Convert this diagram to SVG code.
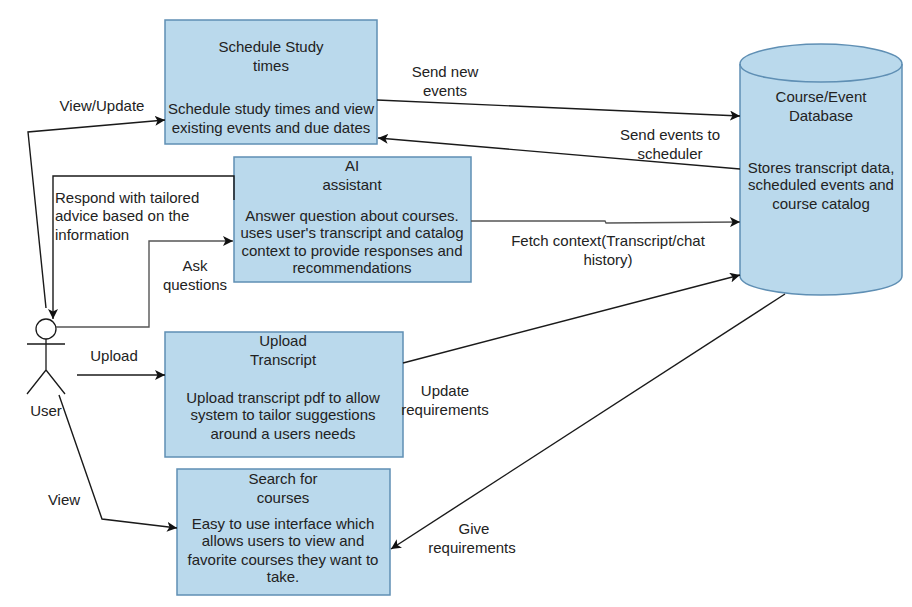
<svg xmlns="http://www.w3.org/2000/svg" width="912" height="607" viewBox="0 0 912 607">
<style>
text{font-family:"Liberation Sans",Arial,sans-serif;font-size:15px;fill:#222;text-anchor:middle}
.b{fill:#bad9ec;stroke:#5f8fb4;stroke-width:1.5}
.c{fill:none;stroke:#1a1a1a;stroke-width:1.4;marker-end:url(#a)}
.g{stroke:#555}
.s{text-anchor:start}
</style>
<defs><marker id="a" markerUnits="userSpaceOnUse" markerWidth="12" markerHeight="10" refX="10" refY="5" orient="auto"><path d="M0 0L10 5L0 10L2.5 5Z" fill="#111"/></marker></defs>
<rect width="912" height="607" fill="#fff"/>
<g id="schedule"><rect class="b" x="165" y="20" width="212" height="124"/>
<text x="271" y="52">Schedule Study</text><text x="271" y="71">times</text><text x="271" y="114">Schedule study times and view</text><text x="271" y="133">existing events and due dates</text></g>
<g id="assistant"><rect class="b" x="234" y="157" width="237" height="125"/>
<text x="352" y="171">AI</text><text x="352" y="190">assistant</text><text x="352" y="221">Answer question about courses.</text><text x="352" y="238">uses user's transcript and catalog</text><text x="352" y="256">context to provide responses and</text><text x="352" y="273">recommendations</text></g>
<g id="upload"><rect class="b" x="165" y="332" width="238" height="125"/>
<text x="283" y="346">Upload</text><text x="283" y="365">Transcript</text><text x="283" y="403">Upload transcript pdf to allow</text><text x="283" y="420">system to tailor suggestions</text><text x="283" y="439">around a users needs</text></g>
<g id="search"><rect class="b" x="177" y="469" width="213" height="126"/>
<text x="283" y="484">Search for</text><text x="283" y="503">courses</text><text x="283" y="529">Easy to use interface which</text><text x="283" y="546">allows users to view and</text><text x="283" y="565">favorite courses they want to</text><text x="283" y="582">take.</text></g>
<g id="database"><path class="b" d="M740 64C740 52 783 44 821 44C859 44 902 52 902 64V276C902 288 859 295 821 295C783 295 740 288 740 276Z"/><path class="b" style="fill:none" d="M740 64C740 76 783 82 821 82C859 82 902 76 902 64"/>
<text x="821" y="102">Course/Event</text><text x="821" y="121">Database</text><text x="821" y="173">Stores transcript data,</text><text x="821" y="190">scheduled events and</text><text x="821" y="209">course catalog</text></g>
<g id="user" fill="none" stroke="#1a1a1a" stroke-width="1.3"><circle cx="46" cy="329" r="10" fill="#fff"/><path d="M46 339V370M27 344H65M46 370L27 394M46 370L65 394"/><text x="46" y="416" stroke="none">User</text></g>
<g id="connectors">
<path class="c" d="M46 308L28 132L165 120"/>
<path class="c" d="M234 200V176H53V319"/>
<path class="c g" d="M56 327H149V241H233"/>
<path class="c" d="M77 375H165"/>
<path class="c" d="M59 395L102 519L177 528"/>
<path class="c" d="M377 100L740 116"/>
<path class="c" d="M740 169L378 138"/>
<path class="c g" d="M471 221H605L606 223L740 222"/>
<path class="c" d="M403 363L740 275"/>
<path class="c" d="M785 294L391 549"/>
</g>
<g id="labels">
<text x="102" y="111">View/Update</text>
<text x="445" y="77">Send new</text><text x="445" y="96">events</text>
<text x="670" y="140">Send events to</text><text x="670" y="159">scheduler</text>
<text class="s" x="55" y="203">Respond with tailored</text><text class="s" x="55" y="221">advice based on the</text><text class="s" x="55" y="240">information</text>
<text x="195" y="271">Ask</text><text x="195" y="290">questions</text>
<text x="608" y="246">Fetch context(Transcript/chat</text><text x="608" y="265">history)</text>
<text x="114" y="361">Upload</text>
<text x="445" y="396">Update</text><text x="445" y="415">requirements</text>
<text x="64" y="505">View</text>
<text x="474" y="534">Give</text><text x="472" y="553">requirements</text>
</g>
</svg>
